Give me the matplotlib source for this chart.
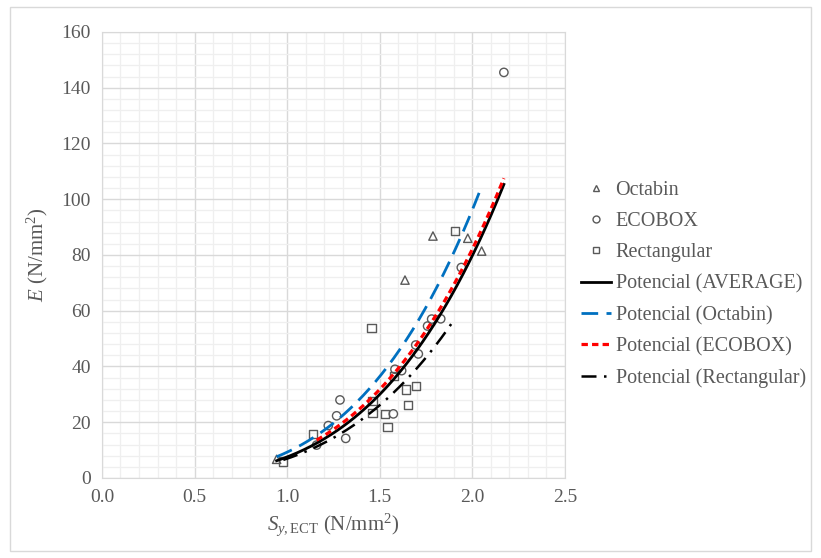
import matplotlib.pyplot as plt
import numpy as np
from matplotlib.lines import Line2D
from matplotlib.patches import Rectangle

plt.rcParams['font.family'] = ['Liberation Serif', 'DejaVu Serif']
plt.rcParams['mathtext.fontset'] = 'custom'
plt.rcParams['mathtext.rm'] = 'Liberation Serif'
plt.rcParams['mathtext.it'] = 'Liberation Serif:italic'

# measured points (S_y,ECT in N/mm2, E in N/mm2)
octabin_x = [0.943, 1.636, 1.787, 1.975, 2.05]
octabin_y = [6.7, 71.0, 86.8, 86.0, 81.4]

ecobox_x = [1.159, 1.222, 1.267, 1.285, 1.316, 1.573, 1.582, 1.618, 1.694,
            1.708, 1.758, 1.78, 1.829, 1.94, 2.17]
ecobox_y = [11.8, 18.8, 22.3, 28.0, 14.2, 23.0, 39.0, 38.5, 47.7,
            44.5, 54.5, 57.0, 57.1, 75.5, 145.5]

rect_x = [0.979, 1.141, 1.456, 1.46, 1.46, 1.528, 1.541, 1.577, 1.64,
          1.654, 1.695, 1.906]
rect_y = [5.9, 15.7, 53.9, 27.7, 23.2, 23.0, 18.2, 36.6, 31.8,
          26.2, 33.1, 88.6]

# power trendlines E = a * S^b (Excel "Potencial")
fit_names = ['AVERAGE', 'Octabin', 'ECOBOX', 'Rectangular']
fit_a = [7.56, 9.27, 8.34, 6.94]
fit_b = [3.40, 3.376, 3.30, 3.27]

gray = '#595959'

fig = plt.figure(figsize=(8.21, 5.58), dpi=100)
ax = fig.add_axes([0.1242, 0.1434, 0.5640, 0.7993])
fig.patches.append(Rectangle((0.012, 0.012), 0.976, 0.976, transform=fig.transFigure,
                             fill=False, edgecolor='#d9d9d9', linewidth=1))

ranges = {
    'AVERAGE': (min(octabin_x + ecobox_x + rect_x), max(octabin_x + ecobox_x + rect_x)),
    'Octabin': (min(octabin_x), max(octabin_x)),
    'ECOBOX': (min(ecobox_x), max(ecobox_x)),
    'Rectangular': (min(rect_x), max(rect_x)),
}
styles = {
    'AVERAGE': dict(color='black', lw=2.0, ls='-'),
    'Octabin': dict(color='#0070c0', lw=2.0, ls=(0, (6, 3))),
    'ECOBOX': dict(color='#ff0000', lw=2.3, ls=(0, (2, 1.3))),
    'Rectangular': dict(color='black', lw=1.8, ls=(0, (6, 3, 1, 3))),
}

mk = dict(facecolor='none', edgecolor=gray, linewidths=1.0, s=36, zorder=3)
ax.scatter(octabin_x, octabin_y, marker='^', **mk)
ax.scatter(ecobox_x, ecobox_y, marker='o', **mk)
ax.scatter(rect_x, rect_y, marker='s', **mk)

for name, a, b in zip(fit_names, fit_a, fit_b):
    x0, x1 = ranges[name]
    xs = np.linspace(x0, x1, 200)
    ax.plot(xs, a * xs ** b, zorder=4, **styles[name])

ax.set_xlim(0, 2.5)
ax.set_ylim(0, 160)
ax.set_xticks(np.arange(0, 2.51, 0.5))
ax.set_xticklabels([f'{v:.1f}' for v in np.arange(0, 2.51, 0.5)])
ax.set_yticks(np.arange(0, 161, 20))
ax.set_xticks(np.arange(0, 2.51, 0.1), minor=True)
ax.set_yticks(np.arange(0, 161, 4), minor=True)
ax.grid(which='major', color='#d9d9d9', lw=1.0)
ax.grid(which='minor', color='#efefef', lw=0.9)
ax.set_axisbelow(True)
for s in ax.spines.values():
    s.set_color('#d9d9d9')
ax.tick_params(which='both', length=0, labelsize=14, labelcolor=gray, pad=8)

ax.set_xlabel(r'$S_{y,\mathrm{ECT}}$ (N/mm$^2$)', fontsize=15, color=gray, labelpad=4)
ax.set_ylabel(r'$E$ (N/mm$^2$)', fontsize=15, color=gray, labelpad=8)

handles = [
    Line2D([], [], ls='none', marker='^', mfc='none', mec=gray, ms=5),
    Line2D([], [], ls='none', marker='o', mfc='none', mec=gray, ms=5),
    Line2D([], [], ls='none', marker='s', mfc='none', mec=gray, ms=5),
]
labels = ['Octabin', 'ECOBOX', 'Rectangular']
for name in fit_names:
    handles.append(Line2D([], [], **styles[name]))
    labels.append(f'Potencial ({name})')

fig.legend(handles, labels, loc='center left', bbox_to_anchor=(0.708, 0.49),
           frameon=False, fontsize=14.5, labelcolor=gray, handlelength=1.5,
           handletextpad=0.2, labelspacing=0.6, borderpad=0, borderaxespad=0)

fig.savefig('out.png', dpi=100)
